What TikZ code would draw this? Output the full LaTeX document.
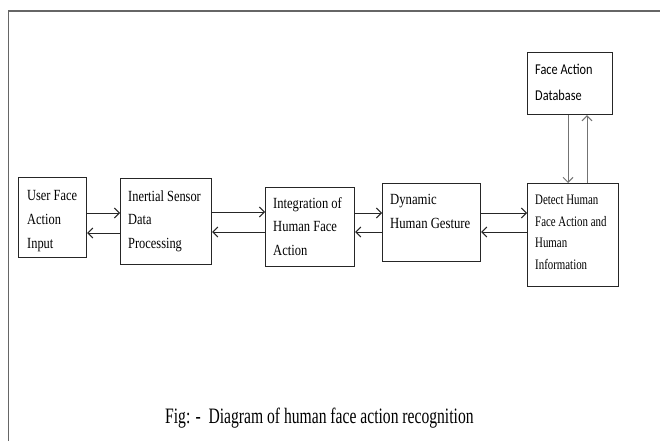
\documentclass[tikz,border=0pt]{standalone}
\usepackage{fontspec}
\setmainfont{Liberation Serif}
\newfontfamily\calib{Carlito}
\usetikzlibrary{arrows.meta}
\newcommand{\stk}[2]{\vtop{\baselineskip=#1\lineskiplimit=-100pt\halign{##\hfil\cr#2\crcr}}}
\begin{document}
\begin{tikzpicture}[x=1pt,y=-1pt,
  box/.style={draw=black!85, line width=1.1pt, inner sep=0pt, anchor=north west},
  txt/.style={inner sep=0pt, anchor=base west, font=\fontsize{15.5}{24}\selectfont},
  arr/.style={-{Straight Barb[length=5pt,width=10pt]}, line width=1pt, draw=black!85},
  varr/.style={-{Straight Barb[length=5pt,width=10pt]}, line width=1pt, draw=black!55},
]
\fill[white] (0,0) rectangle (660,441);
\useasboundingbox (0,0) rectangle (660,441);
% frame
\draw[black!60, line width=1.4pt] (8.5,441) -- (8.5,11) -- (660,11);
% boxes
\node[box, minimum width=68pt, minimum height=80pt] (b1) at (18,177) {};
\node[box, minimum width=91pt, minimum height=86pt] (b2) at (120,178) {};
\node[box, minimum width=89pt, minimum height=79pt] (b3) at (265,187) {};
\node[box, minimum width=98pt, minimum height=78pt] (b4) at (382,183) {};
\node[box, minimum width=91pt, minimum height=103pt] (b5) at (527,183) {};
\node[box, minimum width=85pt, minimum height=62pt] (db) at (527,52) {};
% texts
\node[txt] (t1) at (27,200) {\scalebox{0.8}[1]{\stk{24pt}{User Face\cr Action\cr Input}}};
\node[txt] (t2) at (128,201) {\scalebox{0.8}[1]{\stk{23.5pt}{Inertial Sensor\cr Data\cr Processing}}};
\node[txt] (t3) at (273,208) {\scalebox{0.81}[1]{\stk{23.5pt}{Integration of\cr Human Face\cr Action}}};
\node[txt] (t4) at (390,204) {\scalebox{0.82}[1]{\stk{24pt}{Dynamic\cr Human Gesture}}};
\node[txt, font=\fontsize{14.5}{21.7}\selectfont] (t5) at (535,204.5) {\scalebox{0.75}[1]{\stk{21.7pt}{Detect Human\cr Face Action and\cr Human\cr Information}}};
\node[txt, font=\calib\fontsize{15}{25}\selectfont] (t6) at (535,75) {\scalebox{0.82}[1]{\stk{25pt}{Face Action\cr Database}}};
% horizontal connectors
\draw[arr] (b1.east |- 0,213) -- (b2.west |- 0,213);
\draw[arr] (b2.west |- 0,233) -- (b1.east |- 0,233);
\draw[arr] (b2.east |- 0,212) -- (b3.west |- 0,212);
\draw[arr] (b3.west |- 0,232) -- (b2.east |- 0,232);
\draw[arr] (b3.east |- 0,213) -- (b4.west |- 0,213);
\draw[arr] (b4.west |- 0,232) -- (b3.east |- 0,232);
\draw[arr] (b4.east |- 0,213) -- (b5.west |- 0,213);
\draw[arr] (b5.west |- 0,232) -- (b4.east |- 0,232);
% vertical connectors
\draw[varr] (db.south -| 568,0) -- (b5.north -| 568,0);
\draw[varr] (b5.north -| 587,0) -- (db.south -| 587,0);
% caption
\node[txt, font=\fontsize{22}{24}\selectfont] (cap) at (165,423) {\scalebox{0.71}[1]{Fig: -\enspace Diagram of human face action recognition}};
\end{tikzpicture}
\end{document}
